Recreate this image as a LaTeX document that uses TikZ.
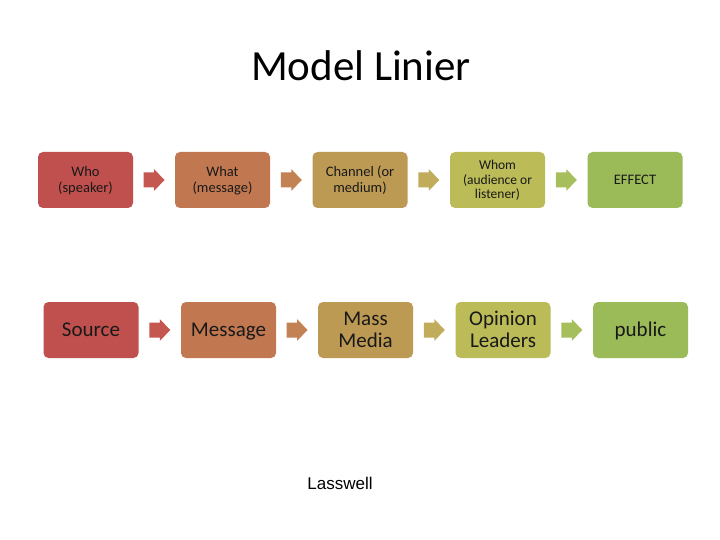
\documentclass[tikz,border=0pt]{standalone}
\usepackage{fontspec}
\setmainfont{Carlito}
\newfontfamily\arialfont{Liberation Sans}
\usetikzlibrary{calc}
\definecolor{cA}{RGB}{192,80,77}
\definecolor{cB}{RGB}{193,120,80}
\definecolor{cC}{RGB}{189,154,84}
\definecolor{cD}{RGB}{187,187,88}
\definecolor{cE}{RGB}{155,187,89}
\definecolor{aA}{RGB}{196,88,80}
\definecolor{aB}{RGB}{194,130,84}
\definecolor{aC}{RGB}{192,172,90}
\definecolor{aD}{RGB}{166,190,92}
\definecolor{txt}{RGB}{25,25,25}
\newcommand{\sst}{\vrule height 12.5pt depth 3.5pt width 0pt}
\newcommand{\tst}{\vrule height 11.5pt depth 3pt width 0pt}
\newcommand{\bst}{\vrule height 17.5pt depth 4.5pt width 0pt}
\tikzset{
  box/.style={rounded corners=5pt, minimum width=95pt, minimum height=56pt,
    inner sep=2pt, align=center, text=txt},
  small/.style={box, font=\fontsize{14.5}{16}\selectfont},
  tiny/.style={box, font=\fontsize{13.5}{14.5}\selectfont},
  big/.style={box, font=\fontsize{21}{22}\selectfont},
}
\newcommand{\blockarrow}[2]{%
  \fill[#2, shift={(#1)}] (-10.5,-7.5) -- (0,-7.5) -- (0,-11) -- (10.5,0)
    -- (0,11) -- (0,7.5) -- (-10.5,7.5) -- cycle;}
\begin{document}
\begin{tikzpicture}[x=1pt,y=-1pt]
\useasboundingbox (0,0) rectangle (720,540);
\fill[white] (0,0) rectangle (720,540);
\node[anchor=base, font=\fontsize{43}{46}\selectfont] (title) at (361,80.5) {Model Linier};
% row 1
\node[small, fill=cA] (a1) at (85.5,180) {\sst Who\\\sst(speaker)};
\node[small, fill=cB] (a2) at (222.5,180) {\sst What\\\sst(message)};
\node[small, fill=cC] (a3) at (360,180) {\sst Channel (or\\\sst medium)};
\node[tiny, fill=cD] (a4) at (497.5,180) {\tst Whom\\\tst(audience or\\\tst listener)};
\node[small, fill=cE] (a5) at (635,180) {\sst EFFECT};
% row 2
\node[big, fill=cA] (b1) at (91,330) {\bst Source};
\node[big, fill=cB] (b2) at (228.5,330) {\bst Message};
\node[big, fill=cC] (b3) at (365.5,330) {\bst Mass\\\bst Media};
\node[big, fill=cD] (b4) at (503,330) {\bst Opinion\\\bst Leaders};
\node[big, fill=cE] (b5) at (640.5,330) {\bst public};
% arrows
\coordinate (ma1) at ($(a1.east)!0.5!(a2.west)$);
\coordinate (ma2) at ($(a2.east)!0.5!(a3.west)$);
\coordinate (ma3) at ($(a3.east)!0.5!(a4.west)$);
\coordinate (ma4) at ($(a4.east)!0.5!(a5.west)$);
\coordinate (mb1) at ($(b1.east)!0.5!(b2.west)$);
\coordinate (mb2) at ($(b2.east)!0.5!(b3.west)$);
\coordinate (mb3) at ($(b3.east)!0.5!(b4.west)$);
\coordinate (mb4) at ($(b4.east)!0.5!(b5.west)$);
\blockarrow{ma1}{aA}\blockarrow{ma2}{aB}\blockarrow{ma3}{aC}\blockarrow{ma4}{aD}
\blockarrow{mb1}{aA}\blockarrow{mb2}{aB}\blockarrow{mb3}{aC}\blockarrow{mb4}{aD}
\node[font=\arialfont\fontsize{17}{19}\selectfont, anchor=base] (lass) at (340,489) {Lasswell};
\end{tikzpicture}
\end{document}
